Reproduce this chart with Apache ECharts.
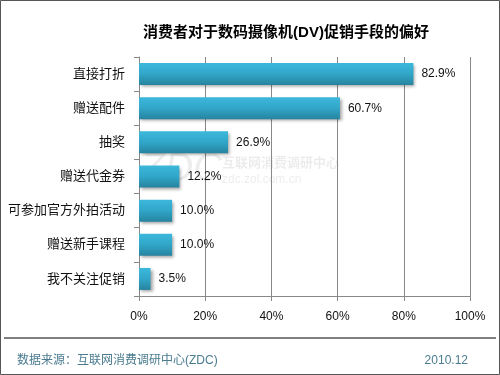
<!DOCTYPE html>
<html><head><meta charset="utf-8">
<script src="https://cdn.jsdelivr.net/npm/echarts@6/dist/echarts.min.js"></script>
<style>html,body{margin:0;padding:0;background:#fff}#c{width:500px;height:375px}</style>
</head><body><div id="c"></div>
<script>
const categories = ['直接打折','赠送配件','抽奖','赠送代金券','可参加官方外拍活动','赠送新手课程','我不关注促销'];
const values = [82.9, 60.7, 26.9, 12.2, 10.0, 10.0, 3.5];
const xTicks = [0, 20, 40, 60, 80, 100];
const titleText = '消费者对于数码摄像机(DV)促销手段的偏好';
const sourceText = '数据来源：互联网消费调研中心(ZDC)';
const dateText = '2010.12';

const FONT = '"Liberation Sans", Arial, "Noto Sans CJK SC", sans-serif';
const chart = echarts.init(document.getElementById('c'), null, {renderer:'canvas'});
chart.setOption({
  animation:false,
  backgroundColor:'#fff',
  title:{text:titleText,left:281,top:20,textAlign:'center',
    textStyle:{fontSize:15,fontWeight:'bold',color:'#000',fontFamily:FONT}},
  grid:{left:139,right:30,top:57,bottom:79,containLabel:false},
  xAxis:{type:'value',min:xTicks[0],max:xTicks[xTicks.length-1],interval:20,
    axisLine:{show:true,lineStyle:{color:'#888'}},
    axisTick:{show:true,length:5,lineStyle:{color:'#888'}},
    splitLine:{show:true,lineStyle:{color:'#888',width:1}},
    axisLabel:{formatter:'{value}%',color:'#111',fontSize:12,margin:15,fontFamily:FONT}},
  yAxis:{type:'category',data:categories,inverse:true,
    axisLine:{show:true,lineStyle:{color:'#888'}},
    axisTick:{show:true,length:5,lineStyle:{color:'#888'}},
    axisLabel:{color:'#111',fontSize:13,margin:14,fontFamily:FONT}},
  series:[{type:'bar',data:values,barWidth:22,
    itemStyle:{color:new echarts.graphic.LinearGradient(0,0,0,1,[
      {offset:0,color:'#3cb8dc'},{offset:0.5,color:'#31a6c8'},{offset:1,color:'#26839f'}]),
      shadowColor:'rgba(0,0,0,0.35)',shadowBlur:3,shadowOffsetX:2,shadowOffsetY:2},
    label:{show:true,position:'right',distance:8,formatter:p=>p.value.toFixed(1)+'%',
      color:'#111',fontSize:12,fontFamily:FONT}}],
  graphic:[
    {type:'rect',shape:{x:0.5,y:0.5,width:499,height:374},style:{fill:'none',stroke:'#555',lineWidth:1},z:-1},
    {type:'text',left:140,top:150,z:-1,style:{text:'ZDC',fontSize:40,fontStyle:'italic',fill:'rgba(0,0,0,0.07)',fontFamily:FONT}},
    {type:'text',left:222,top:157,z:-1,style:{text:'互联网消费调研中心',fontSize:13,fontWeight:'bold',fill:'rgba(0,0,0,0.08)',fontFamily:FONT}},
    {type:'text',left:222,top:174,z:-1,style:{text:'zdc.zol.com.cn',fontSize:12,fill:'rgba(0,0,0,0.08)',fontFamily:FONT}},
    {type:'line',shape:{x1:4,y1:338,x2:496,y2:338},style:{stroke:'#000',lineWidth:1}},
    {type:'text',left:17,top:355,style:{text:sourceText,fontSize:12,fill:'#4a7b8f',fontFamily:FONT}},
    {type:'text',right:32,top:355,style:{text:dateText,fontSize:12,fill:'#4a7b8f',fontFamily:FONT}}
  ]
});
</script></body></html>
